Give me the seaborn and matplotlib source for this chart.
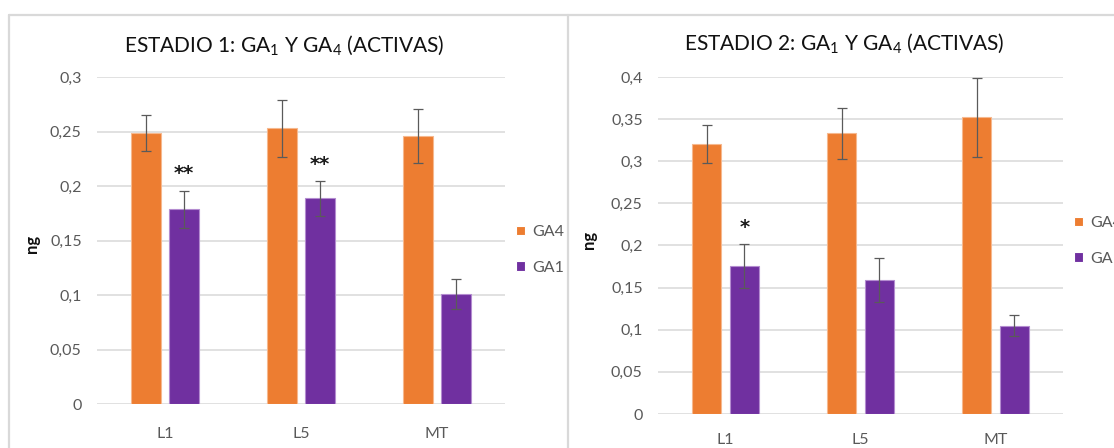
import pandas as pd
import seaborn as sns
import matplotlib.pyplot as plt
from matplotlib.lines import Line2D

# ---- data -------------------------------------------------------------
categories = ["L1", "L5", "MT"]
hormones = ["GA4", "GA1"]

stage1_ga4 = [0.249, 0.253, 0.246]
stage1_ga4_err = [0.0165, 0.026, 0.025]
stage1_ga1 = [0.179, 0.189, 0.101]
stage1_ga1_err = [0.017, 0.016, 0.0135]
stage1_marks = ["**", "**", ""]
stage1_ticks = [0, 0.05, 0.1, 0.15, 0.2, 0.25, 0.3]
stage1_title = "ESTADIO 1: GA$_1$ Y GA$_4$ (ACTIVAS)"

stage2_ga4 = [0.320, 0.333, 0.352]
stage2_ga4_err = [0.0225, 0.030, 0.047]
stage2_ga1 = [0.176, 0.159, 0.105]
stage2_ga1_err = [0.026, 0.026, 0.013]
stage2_marks = ["*", "", ""]
stage2_ticks = [0, 0.05, 0.1, 0.15, 0.2, 0.25, 0.3, 0.35, 0.4]
stage2_title = "ESTADIO 2: GA$_1$ Y GA$_4$ (ACTIVAS)"

palette = {"GA4": "#ED7D31", "GA1": "#7030A0"}
edge_colors = {"GA4": "#F6B88E", "GA1": "#B48CD0"}

# ---- style ------------------------------------------------------------
sns.set_theme(style="white")
plt.rcParams["font.family"] = ["Lato", "DejaVu Sans"]
plt.rcParams["mathtext.fontset"] = "custom"
plt.rcParams["mathtext.rm"] = "Lato"
plt.rcParams["mathtext.it"] = "Lato:italic"
plt.rcParams["mathtext.bf"] = "Lato:bold"

W, H = 1114, 448
fig = plt.figure(figsize=(W / 100, H / 100), dpi=100)
fig.patch.set_facecolor("white")


def fx(x):
    return x / W


def fy(y):
    return 1 - y / H


def tick_fmt(v):
    s = f"{v:.2f}".rstrip("0").rstrip(".")
    return s.replace(".", ",")


def draw_panel(rect, ga4, ga4_err, ga1, ga1_err, marks, ticks, title,
               title_xy, ylabel_xy, legend_xy, xpad):
    left, top, right, bottom = rect
    ax = fig.add_axes([fx(left), fy(bottom), fx(right - left),
                       (bottom - top) / H])
    df = pd.DataFrame({
        "muestra": categories * 2,
        "hormona": ["GA4"] * len(categories) + ["GA1"] * len(categories),
        "ng": list(ga4) + list(ga1),
    })
    sns.barplot(data=df, x="muestra", y="ng", hue="hormona",
                order=categories, hue_order=hormones, palette=palette,
                saturation=1, width=0.56, gap=0.214, errorbar=None,
                linewidth=0.8, ax=ax)

    bar_containers = list(ax.containers)
    errs = {"GA4": ga4_err, "GA1": ga1_err}
    for hormone, cont in zip(hormones, bar_containers):
        for bar in cont:
            bar.set_edgecolor(edge_colors[hormone])
            xc = bar.get_x() + bar.get_width() / 2
            idx = int(round(xc))
            e = errs[hormone][idx]
            top_val = bar.get_height()
            ax.errorbar(xc, top_val, yerr=e, color="#5A5A5A", lw=0.9,
                        capsize=3.3, capthick=0.9, zorder=5)
            if hormone == "GA1" and marks[idx]:
                ax.annotate(marks[idx], xy=(xc, top_val + e),
                            xytext=(0, 8), textcoords="offset points",
                            ha="center", va="baseline", fontsize=14,
                            fontweight="bold", family="DejaVu Sans",
                            color="#1A1A1A")

    ax.set_xlim(-0.5, len(categories) - 0.5)
    ax.set_ylim(ticks[0], ticks[-1])
    ax.set_yticks(ticks)
    ax.set_yticklabels([tick_fmt(t) for t in ticks])
    ax.yaxis.grid(True, color="#D9D9D9", lw=1.1)
    ax.set_axisbelow(True)
    for s in ax.spines.values():
        s.set_visible(False)
    ax.tick_params(axis="y", length=0, pad=11, labelsize=11.5,
                   labelcolor="#595959")
    ax.tick_params(axis="x", length=0, pad=xpad, labelsize=11.5,
                   labelcolor="#595959")
    ax.set_xlabel("")
    ax.set_ylabel("")

    sns.move_legend(ax, "center left", title=None, frameon=False,
                    bbox_to_anchor=(fx(legend_xy[0]), fy(legend_xy[1])),
                    bbox_transform=fig.transFigure, fontsize=11.5,
                    handlelength=0.55, handleheight=0.55,
                    handletextpad=0.45, labelspacing=1.35, borderpad=0,
                    borderaxespad=0)
    for t in ax.get_legend().get_texts():
        t.set_color("#595959")

    fig.text(fx(title_xy[0]), fy(title_xy[1]), title, ha="center",
             va="center", fontsize=15, color="#111111")
    fig.text(fx(ylabel_xy[0]), fy(ylabel_xy[1]), "ng", rotation=90,
             ha="center", va="center", fontsize=12, fontweight="bold",
             color="#111111")
    return ax


draw_panel((97, 77.3, 505, 404), stage1_ga4, stage1_ga4_err, stage1_ga1,
           stage1_ga1_err, stage1_marks, stage1_ticks, stage1_title,
           (284, 45), (32, 244), (516, 250), 16.5)
draw_panel((658, 77, 1063, 414), stage2_ga4, stage2_ga4_err, stage2_ga1,
           stage2_ga1_err, stage2_marks, stage2_ticks, stage2_title,
           (844, 43), (589, 240), (1074, 241), 14)

# chart frames
frame = dict(color="#D9D9D9", lw=1.6, transform=fig.transFigure)
fig.add_artist(Line2D([fx(8.5), fx(W)], [fy(15), fy(15)], **frame))
fig.add_artist(Line2D([fx(8.5), fx(8.5)], [fy(15), fy(H)], **frame))
fig.add_artist(Line2D([fx(567.5), fx(567.5)], [fy(15), fy(H)], **frame))

fig.savefig("out.png", dpi=100, facecolor="white")
